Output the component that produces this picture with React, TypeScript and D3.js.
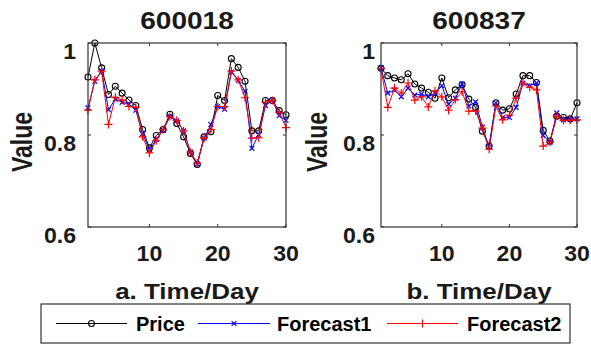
import React from 'react';
import * as d3 from 'd3';

const days = [1, 2, 3, 4, 5, 6, 7, 8, 9, 10, 11, 12, 13, 14, 15, 16, 17, 18, 19, 20, 21, 22, 23, 24, 25, 26, 27, 28, 29, 30];

// 600018
const priceA = [0.926, 1.0, 0.946, 0.888, 0.906, 0.891, 0.876, 0.864, 0.812, 0.772, 0.799, 0.812, 0.845, 0.825, 0.796, 0.76, 0.736, 0.796, 0.807, 0.886, 0.875, 0.966, 0.947, 0.917, 0.809, 0.809, 0.875, 0.875, 0.853, 0.844];
const fc1A = [0.859, 0.917, 0.939, 0.855, 0.878, 0.871, 0.867, 0.854, 0.803, 0.768, 0.79, 0.81, 0.84, 0.831, 0.809, 0.763, 0.737, 0.793, 0.823, 0.862, 0.856, 0.937, 0.919, 0.895, 0.771, 0.801, 0.864, 0.876, 0.842, 0.832];
const fc2A = [0.854, 0.92, 0.939, 0.823, 0.882, 0.876, 0.862, 0.86, 0.796, 0.761, 0.788, 0.812, 0.84, 0.832, 0.809, 0.763, 0.739, 0.793, 0.812, 0.862, 0.862, 0.939, 0.92, 0.881, 0.793, 0.794, 0.871, 0.875, 0.849, 0.816];

// 600837
const priceB = [0.945, 0.929, 0.924, 0.92, 0.933, 0.911, 0.902, 0.893, 0.88, 0.924, 0.881, 0.898, 0.909, 0.878, 0.86, 0.808, 0.776, 0.87, 0.854, 0.857, 0.889, 0.929, 0.929, 0.914, 0.81, 0.787, 0.841, 0.838, 0.835, 0.87];
const fc1B = [0.946, 0.891, 0.898, 0.883, 0.902, 0.887, 0.889, 0.883, 0.891, 0.907, 0.867, 0.88, 0.911, 0.863, 0.872, 0.817, 0.774, 0.87, 0.838, 0.838, 0.86, 0.913, 0.907, 0.913, 0.799, 0.784, 0.848, 0.833, 0.835, 0.835];
const fc2B = [0.944, 0.86, 0.902, 0.891, 0.913, 0.876, 0.883, 0.861, 0.896, 0.883, 0.854, 0.877, 0.894, 0.852, 0.852, 0.815, 0.769, 0.863, 0.833, 0.843, 0.88, 0.913, 0.904, 0.898, 0.776, 0.784, 0.841, 0.832, 0.832, 0.833];

const xTicks = [10, 20, 30];
const yTicks = [0.6, 0.8, 1];
const seriesNames = ['Price', 'Forecast1', 'Forecast2'];
const seriesColors = ['#000000', '#0000ff', '#ff0000'];

const FONT = 'Arial, Liberation Sans, Helvetica, sans-serif';
const AXIS = '#333';

type Marker = 'o' | 'x' | '+';
const markers: Marker[] = ['o', 'x', '+'];

const drawMarker = (m: Marker, x: number, y: number, color: string, key: any) => {
  if (m === 'o') return <circle key={key} cx={x} cy={y} r={3} fill="none" stroke={color} strokeWidth={1.1} />;
  if (m === 'x') {
    const s = 2.4;
    return <path key={key} d={`M${x - s},${y - s}L${x + s},${y + s}M${x - s},${y + s}L${x + s},${y - s}`} stroke={color} strokeWidth={1.2} />;
  }
  const s = 4;
  return <path key={key} d={`M${x - s},${y}L${x + s},${y}M${x},${y - s}L${x},${y + s}`} stroke={color} strokeWidth={1.2} />;
};

// text a little stretched sideways, like the reference picture
const SText = ({ x, y, sx = 1.1, size, anchor = 'middle', children, rotate = 0 }: any) => (
  <text
    transform={`translate(${x},${y}) scale(${sx},1)${rotate ? ` rotate(${rotate})` : ''}`}
    textAnchor={anchor}
    fontFamily={FONT}
    fontWeight="bold"
    fontSize={size}
    fill="#1a1a1a"
  >
    {children}
  </text>
);

interface PanelProps {
  left: number;
  right: number;
  title: string;
  xlabel: string;
  data: number[][];
  yLabelX: number;
  tickEnd: number;
}

const Panel = ({ left, right, title, xlabel, data, yLabelX, tickEnd }: PanelProps) => {
  const top = 43;
  const bottom = 227;
  const x = d3.scaleLinear().domain([1, 30]).range([left, right]);
  const y = d3.scaleLinear().domain([0.6, 1]).range([bottom, top]);
  const line = d3.line<number>().x((_, i) => x(days[i])).y(d => y(d));
  const cx = (left + right) / 2;

  return (
    <g>
      {data.map((s, si) => (
        <g key={si}>
          <path d={line(s) || ''} fill="none" stroke={seriesColors[si]} strokeWidth={1} />
          {s.map((v, i) => drawMarker(markers[si], x(days[i]), y(v), seriesColors[si], i))}
        </g>
      ))}
      <rect x={left} y={top} width={right - left} height={bottom - top} fill="none" stroke={AXIS} strokeWidth={1.2} />
      {xTicks.map(t => (
        <g key={t}>
          <line x1={x(t)} x2={x(t)} y1={bottom} y2={bottom - 3} stroke={AXIS} />
          <line x1={x(t)} x2={x(t)} y1={top} y2={top + 3} stroke={AXIS} />
          <SText x={x(t)} y={261} size={22} sx={1.05}>{t}</SText>
        </g>
      ))}
      {yTicks.map(t => (
        <g key={t}>
          <line x1={left} x2={left + 3} y1={y(t)} y2={y(t)} stroke={AXIS} />
          <line x1={right} x2={right - 3} y1={y(t)} y2={y(t)} stroke={AXIS} />
          <SText x={tickEnd} y={y(t) + 16} size={22} sx={1.05} anchor="end">{t === 1 ? '1' : d3.format('.1f')(t)}</SText>
        </g>
      ))}
      <SText x={cx} y={29} size={23} sx={1.22}>{title}</SText>
      <SText x={cx} y={299} size={22} sx={1.18}>{xlabel}</SText>
      <SText x={yLabelX} y={142} size={23} sx={1.3} rotate={-90}>
        <tspan dy="0.36em">Value</tspan>
      </SText>
    </g>
  );
};

const legendItems = [
  { x1: 56, x2: 127, tx: 136 },
  { x1: 198, x2: 270, tx: 277 },
  { x1: 387, x2: 458, tx: 467 },
];

export default function App() {
  return (
    <svg width={591} height={345} style={{ position: 'absolute', left: 0, top: 0, background: '#fff' }}>
      <rect width={591} height={345} fill="#fff" />
      <Panel left={88} right={286} title="600018" xlabel="a. Time/Day" data={[priceA, fc1A, fc2A]} yLabelX={21} tickEnd={76} />
      <Panel left={381} right={577} title="600837" xlabel="b. Time/Day" data={[priceB, fc1B, fc2B]} yLabelX={316} tickEnd={375} />
      <rect x={41} y={304} width={529} height={39} fill="#fff" stroke={AXIS} strokeWidth={1.2} />
      {legendItems.map((it, i) => (
        <g key={i}>
          <line x1={it.x1} x2={it.x2} y1={323.5} y2={323.5} stroke={seriesColors[i]} strokeWidth={1} />
          {drawMarker(markers[i], (it.x1 + it.x2) / 2, 323.5, seriesColors[i], 'm')}
          <text x={it.tx} y={331} fontFamily={FONT} fontWeight="bold" fontSize={20} fill="#000">{seriesNames[i]}</text>
        </g>
      ))}
    </svg>
  );
}
